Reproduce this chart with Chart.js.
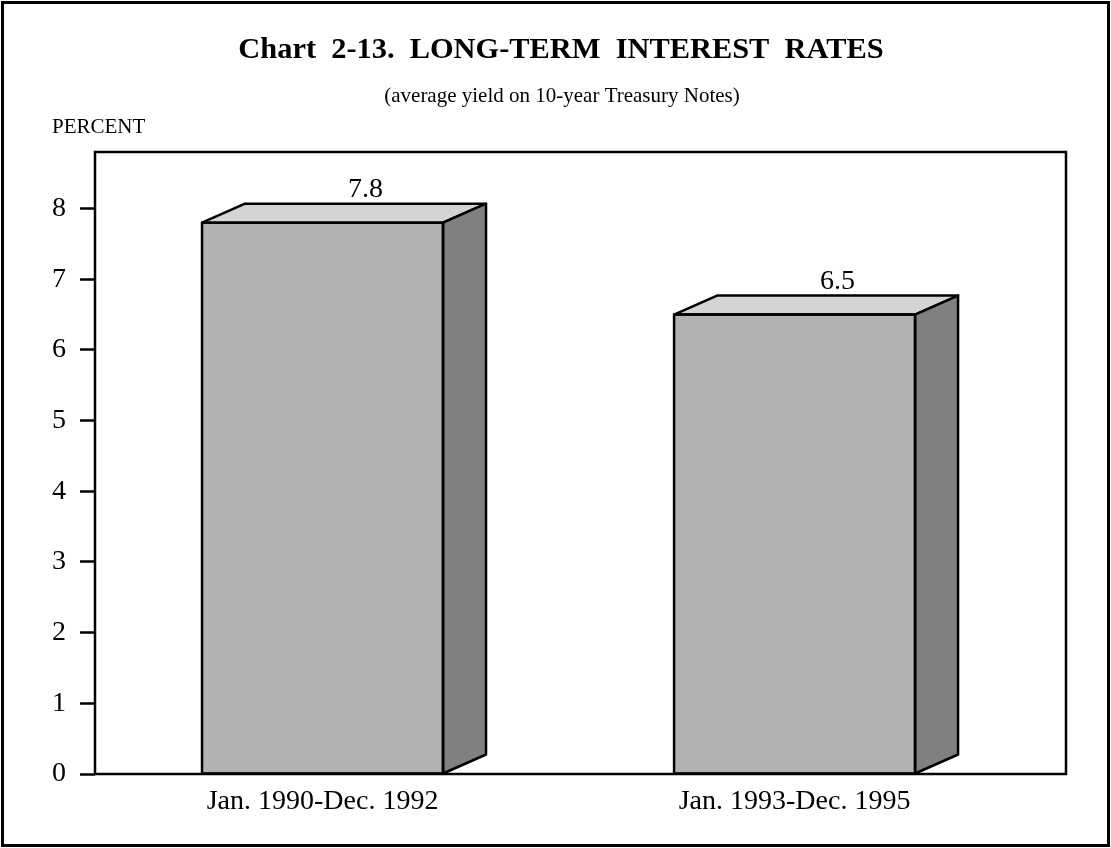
<!DOCTYPE html>
<html>
<head>
    <meta charset="UTF-8">
    <title>Long-Term Interest Rates</title>
    <script src="https://cdn.jsdelivr.net/npm/chart.js"></script>
    <style>
        body { margin: 0; background: #fff; }
        canvas { display: block; }
    </style>
</head>
<body>
    <canvas id="rateChart" width="1111" height="848"></canvas>

    <script>
        // chart data
        const categories = ['Jan. 1990-Dec. 1992', 'Jan. 1993-Dec. 1995'];
        const yields = [7.8, 6.5];
        const yTicks = [0, 1, 2, 3, 4, 5, 6, 7, 8];

        const SERIF = '"Liberation Serif", "Times New Roman", serif';
        const DEPTH_X = 43;
        const DEPTH_Y = 19;
        const LINE = 2.5;

        // frame, headings and the box around the plot
        const framePlugin = {
            id: 'frame',
            beforeDraw(chart) {
                const ctx = chart.ctx;
                ctx.save();
                ctx.fillStyle = '#fff';
                ctx.fillRect(0, 0, chart.width, chart.height);
                ctx.strokeStyle = '#000';
                ctx.lineWidth = 3;
                ctx.strokeRect(2.5, 2.5, chart.width - 5, chart.height - 5);

                ctx.fillStyle = '#000';
                ctx.textAlign = 'center';
                ctx.textBaseline = 'alphabetic';
                ctx.font = 'bold 30.4px ' + SERIF;
                ctx.fillText('Chart  2-13.  LONG-TERM  INTEREST  RATES', 561, 58);
                ctx.font = '21px ' + SERIF;
                ctx.fillText('(average yield on 10-year Treasury Notes)', 562, 102);
                ctx.textAlign = 'left';
                ctx.fillText('PERCENT', 52, 133);
                ctx.restore();
            },
            afterDraw(chart) {
                const a = chart.chartArea;
                const ctx = chart.ctx;
                ctx.save();
                ctx.strokeStyle = '#000';
                ctx.lineWidth = LINE;
                ctx.strokeRect(a.left, a.top, a.right - a.left, a.bottom - a.top);
                ctx.restore();
            }
        };

        // top and side faces of the bars, plus the value labels
        const boxPlugin = {
            id: 'box3d',
            afterDatasetsDraw(chart) {
                const ctx = chart.ctx;
                const meta = chart.getDatasetMeta(0);
                ctx.save();
                ctx.strokeStyle = '#000';
                ctx.lineWidth = LINE;
                ctx.lineJoin = 'round';
                meta.data.forEach((bar, i) => {
                    const l = bar.x - bar.width / 2;
                    const r = bar.x + bar.width / 2;
                    const t = bar.y;
                    const b = bar.base;

                    ctx.beginPath();
                    ctx.moveTo(l, t);
                    ctx.lineTo(l + DEPTH_X, t - DEPTH_Y);
                    ctx.lineTo(r + DEPTH_X, t - DEPTH_Y);
                    ctx.lineTo(r, t);
                    ctx.closePath();
                    ctx.fillStyle = '#d4d4d4';
                    ctx.fill();
                    ctx.stroke();

                    ctx.beginPath();
                    ctx.moveTo(r, t);
                    ctx.lineTo(r + DEPTH_X, t - DEPTH_Y);
                    ctx.lineTo(r + DEPTH_X, b - DEPTH_Y);
                    ctx.lineTo(r, b);
                    ctx.closePath();
                    ctx.fillStyle = '#808080';
                    ctx.fill();
                    ctx.stroke();

                    // front outline on top of the fill
                    ctx.strokeRect(l, t, r - l, b - t);

                    ctx.fillStyle = '#000';
                    ctx.font = '28px ' + SERIF;
                    ctx.textAlign = 'center';
                    ctx.textBaseline = 'alphabetic';
                    ctx.fillText(yields[i].toFixed(1), bar.x + DEPTH_X, t - DEPTH_Y - 7);
                });
                ctx.restore();
            }
        };

        const ctx = document.getElementById('rateChart').getContext('2d');
        new Chart(ctx, {
            type: 'bar',
            data: {
                datasets: [{
                    data: categories.map((c, i) => ({ x: i, y: yields[i] })),
                    backgroundColor: '#b2b2b2',
                    borderWidth: 0,
                    barThickness: 241
                }]
            },
            plugins: [framePlugin, boxPlugin],
            options: {
                responsive: false,
                animation: false,
                layout: { padding: { top: 152, right: 45, left: 0, bottom: 0 } },
                plugins: {
                    legend: { display: false },
                    tooltip: { enabled: false }
                },
                scales: {
                    x: {
                        type: 'linear',
                        offset: false,
                        min: -0.482,
                        max: 1.575,
                        afterFit(scale) { scale.height = 74; },
                        afterBuildTicks(scale) {
                            scale.ticks = categories.map((c, i) => ({ value: i }));
                        },
                        grid: { display: false },
                        border: { display: false },
                        ticks: {
                            color: '#000',
                            font: { family: SERIF, size: 28 },
                            padding: 3,
                            maxRotation: 0,
                            autoSkip: false,
                            callback: (v) => categories[v]
                        }
                    },
                    y: {
                        min: 0,
                        max: 8.8,
                        afterFit(scale) { scale.width = 95; },
                        afterBuildTicks(scale) {
                            scale.ticks = yTicks.map(v => ({ value: v }));
                        },
                        grid: {
                            drawOnChartArea: false,
                            drawTicks: true,
                            tickLength: 15,
                            tickColor: '#000',
                            tickWidth: LINE
                        },
                        border: { display: false },
                        ticks: {
                            color: '#000',
                            font: { family: SERIF, size: 28 },
                            padding: 14
                        }
                    }
                }
            }
        });
    </script>
</body>
</html>
